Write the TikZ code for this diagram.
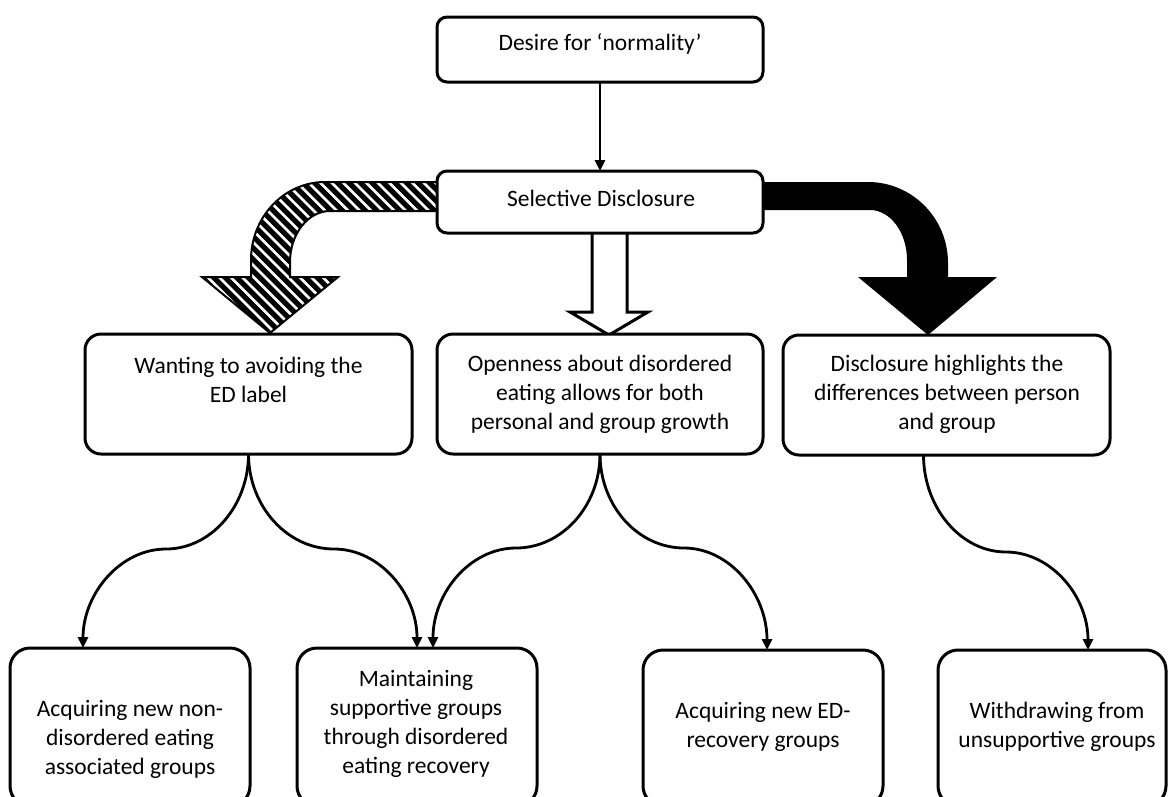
\documentclass[tikz,border=0pt]{standalone}
\usepackage{fontspec}
\setmainfont{Carlito}
\usetikzlibrary{arrows.meta}

\begin{document}
\begin{tikzpicture}[x=1pt,y=-1pt,
  box/.style={draw=black, line width=3pt, fill=white, rounded corners=#1,
              inner sep=0pt, outer sep=0pt, anchor=north west},
  box/.default=10pt,
  txt/.style={align=center, inner sep=0pt, text=black,
              font=\fontsize{23.5}{29}\selectfont},
  conn/.style={line width=2.8pt, -{Triangle[length=11pt,width=10pt]}},
  hatchedarrow/.style={insert path={(440,182) -- (325,182)
      .. controls (284,182) and (251,217) .. (251,260) -- (251,277)
      -- (202,277) -- (270,333) -- (338,277) -- (290,277) -- (290,262)
      .. controls (290,234) and (308,211) .. (330,211) -- (440,211) -- cycle}},
  blackarrow/.style={insert path={(760,182) -- (868,182)
      .. controls (912,182) and (948,218) .. (948,263) -- (948,277)
      -- (997,277) -- (928,335) -- (858,277) -- (907,277) -- (907,260)
      .. controls (907,232) and (890,210) .. (870,210) -- (760,210) -- cycle}}
]
\useasboundingbox (0,0) rectangle (1169,796);
\clip (0,0) rectangle (1169,796);

% striped block arrow to the left branch
\fill[black, hatchedarrow];
\begin{scope}
  \clip[hatchedarrow];
  \foreach \c in {20,31.5,...,470}
    \draw[white, line width=2.8pt] (\c,170) -- ++(175,175);
\end{scope}
\draw[black, line width=2pt, line join=miter, hatchedarrow];

% solid block arrow to the right branch
\fill[black, blackarrow];

% outlined block arrow to the middle branch
\filldraw[fill=white, draw=black, line width=3pt, line join=miter]
  (592,228) -- (592,312) -- (570,312) -- (609,335) -- (648,312) -- (627,312) -- (627,228);

% boxes
\node[box=10pt, minimum width=326pt, minimum height=65pt] (top) at (437,17) {};
\node[box=10pt, minimum width=326pt, minimum height=62pt] (sel) at (437,171) {};
\node[box=16pt, minimum width=327pt, minimum height=120pt] (L) at (85,334) {};
\node[box=16pt, minimum width=326pt, minimum height=120pt] (M) at (437,334) {};
\node[box=16pt, minimum width=327pt, minimum height=120pt] (R) at (783,335) {};
\node[box=20pt, minimum width=240pt, minimum height=158pt] (B1) at (10,648) {};
\node[box=20pt, minimum width=240pt, minimum height=158pt] (B2) at (297,648) {};
\node[box=20pt, minimum width=240pt, minimum height=156pt] (B3) at (643,650) {};
\node[box=20pt, minimum width=228pt, minimum height=156pt] (B4) at (938,650) {};

% texts
\node[txt] (topT) at (600,44) {Desire for ‘normality’};
\node[txt] (selT) at (601,198) {Selective Disclosure};
\node[txt] (LT) at (248.5,380) {Wanting to avoiding the\\ED label};
\node[txt] (MT) at (600,394) {Openness about disordered\\eating allows for both\\personal and group growth};
\node[txt] (RT) at (947,394) {Disclosure highlights the\\differences between person\\and group};
\node[txt] (B1T) at (130,739) {Acquiring new non-\\disordered eating\\associated groups};
\node[txt] (B2T) at (416,724) {Maintaining\\supportive groups\\through disordered\\eating recovery};
\node[txt] (B3T) at (763,727) {Acquiring new ED-\\recovery groups};
\node[txt] (B4T) at (1057,727) {Withdrawing from\\unsupportive groups};

% waypoints of the S-shaped connectors
\coordinate (m1) at (166,549);
\coordinate (m2) at (334,549);
\coordinate (m3) at (516,548);
\coordinate (m4) at (684,548);
\coordinate (m5) at (1006,552);

% connectors
\draw[conn] (top.south) -- (sel.north);
\draw[conn] (L.south) .. controls +(0,52) and +(45,0) .. (m1)
  .. controls +(-46,0) and +(0,-54) .. ([xshift=-47pt]B1.north);
\draw[conn] (L.south) .. controls +(0,52) and +(-47,0) .. (m2)
  .. controls +(46,0) and +(0,-54) .. (B2.north);
\draw[conn] (M.south) .. controls +(0,52) and +(46,0) .. (m3)
  .. controls +(-46,0) and +(0,-55) .. ([xshift=16pt]B2.north);
\draw[conn] (M.south) .. controls +(0,52) and +(-46,0) .. (m4)
  .. controls +(46,0) and +(0,-56) .. ([xshift=4pt]B3.north);
\draw[conn] ([xshift=-23pt]R.south) .. controls +(0,53) and +(-45,0) .. (m5)
  .. controls +(45,0) and +(0,-54) .. ([xshift=36pt]B4.north);
\end{tikzpicture}
\end{document}
